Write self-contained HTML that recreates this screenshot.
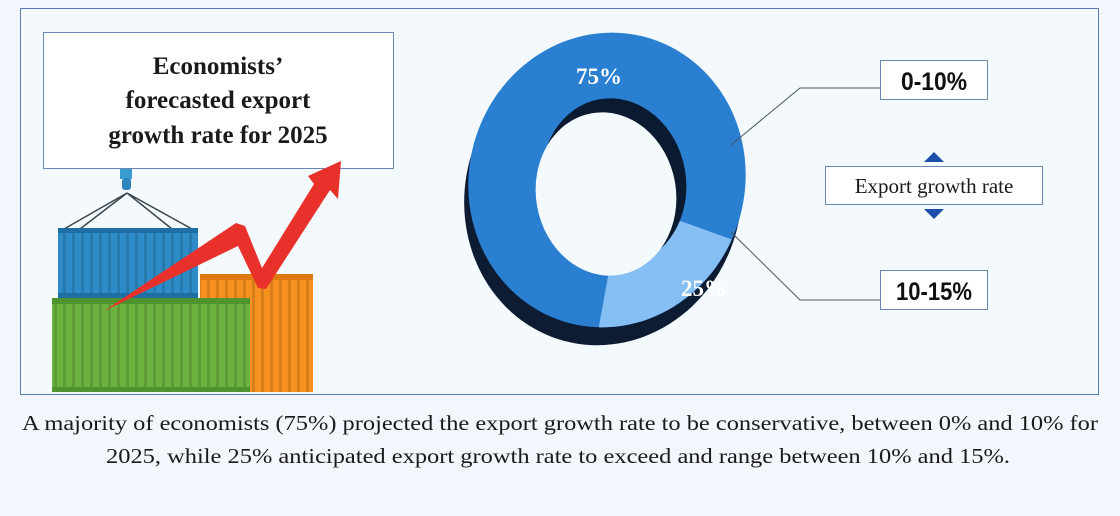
<!DOCTYPE html>
<html><head><meta charset="utf-8"><style>
html,body{margin:0;padding:0;background:#f1f7fc;}
svg{display:block}
</style></head><body>
<svg width="1120" height="516" viewBox="0 0 1120 516" xmlns="http://www.w3.org/2000/svg">
<defs>
<pattern id="rib" width="9" height="10" patternUnits="userSpaceOnUse"><rect x="0" width="3" height="10" fill="rgba(0,0,0,0.13)"/></pattern>
<clipPath id="topc"><ellipse cx="607" cy="180" rx="138" ry="148" transform="rotate(15 607 180)"/></clipPath>
</defs>
<rect width="1120" height="516" fill="#f1f7fc"/>
<rect x="20.5" y="8.5" width="1078" height="386" fill="#f4f9fd" stroke="#5a7bb0" stroke-width="1"/>
<rect x="43.5" y="32.5" width="350" height="136" fill="#fff" stroke="#6a86b5"/>
<g font-family="'Liberation Serif',serif" font-weight="bold" font-size="25" fill="#1a1a1a" text-anchor="middle">
<text x="218" y="74">Economists’</text>
<text x="218" y="108">forecasted export</text>
<text x="218" y="143">growth rate for 2025</text>
</g>
<rect x="120" y="169" width="12" height="10" fill="#3a9bd0"/>
<rect x="122" y="178" width="9" height="12" rx="3" fill="#2f86bd"/>
<g stroke="#3d4550" stroke-width="1.5" fill="none">
<path d="M127 193 L64 229 M127 193 L80 229 M127 193 L172 229 M127 193 L192 229"/>
</g>
<rect x="58" y="228" width="140" height="70" fill="#2d8cc8"/>
<rect x="58" y="228" width="140" height="70" fill="url(#rib)"/>
<rect x="58" y="228" width="140" height="5" fill="#1f6ea6"/><rect x="58" y="293" width="140" height="5" fill="#1f6ea6"/>
<rect x="200" y="274" width="113" height="118" fill="#f7901e"/>
<rect x="200" y="274" width="113" height="118" fill="url(#rib)"/>
<rect x="200" y="274" width="113" height="6" fill="#e07a10"/>
<rect x="52" y="298" width="198" height="94" fill="#6bb33e"/>
<rect x="52" y="298" width="198" height="94" fill="url(#rib)"/>
<rect x="52" y="298" width="198" height="6" fill="#4f9230"/><rect x="52" y="387" width="198" height="5" fill="#4f9230"/>
<polygon points="104,311 236,223 245,226 262,268 314,184 308,176 341,161 338,199 330,190 266,289 258,288 238,246" fill="#e8312a"/>
<!-- donut -->
<ellipse cx="603" cy="196" rx="138" ry="150" transform="rotate(15 603 196)" fill="#0d1c33"/>
<ellipse cx="607" cy="180" rx="138" ry="148" transform="rotate(15 607 180)" fill="#2a7fd0"/>
<polygon clip-path="url(#topc)" points="622,200 900,300 900,430 580,430" fill="#86bff4"/>
<ellipse cx="614" cy="182" rx="72" ry="84" transform="rotate(-10 614 182)" fill="#0a1a30"/>
<ellipse cx="606" cy="194" rx="70" ry="82" transform="rotate(-10 606 194)" fill="#f4f9fd"/>
<g font-family="'Liberation Serif',serif" font-weight="bold" font-size="23" fill="#fff">
<text x="576" y="84">75%</text>
<text x="681" y="296">25%</text>
</g>
<g stroke="#4a5560" stroke-width="1" fill="none">
<path d="M731 145 L800 88 L880 88"/>
<path d="M731 232 L800 300 L880 300"/>
</g>
<rect x="880.5" y="60.5" width="107" height="39" fill="#fff" stroke="#6a86b5"/>
<rect x="880.5" y="270.5" width="107" height="39" fill="#fff" stroke="#6a86b5"/>
<g font-family="'Liberation Sans',sans-serif" font-weight="bold" font-size="25" fill="#111" text-anchor="middle">
<text x="934" y="90" textLength="66" lengthAdjust="spacingAndGlyphs">0-10%</text>
<text x="934" y="300" textLength="76" lengthAdjust="spacingAndGlyphs">10-15%</text>
</g>
<rect x="825.5" y="166.5" width="217" height="38" fill="#fff" stroke="#6a86b5"/>
<text x="934" y="193" font-family="'Liberation Serif',serif" font-size="21" fill="#1a1a1a" text-anchor="middle">Export growth rate</text>
<polygon points="924,162 944,162 934,152" fill="#1a4ea8"/>
<polygon points="924,209 944,209 934,219" fill="#1a4ea8"/>
<g font-family="'Liberation Serif',serif" font-size="21" fill="#1a1a1a">
<text x="22" y="430" textLength="1076" lengthAdjust="spacingAndGlyphs">A majority of economists (75%) projected the export growth rate to be conservative, between 0% and 10% for</text>
<text x="106" y="463" textLength="904" lengthAdjust="spacingAndGlyphs">2025, while 25% anticipated export growth rate to exceed and range between 10% and 15%.</text>
</g>
</svg>
</body></html>
